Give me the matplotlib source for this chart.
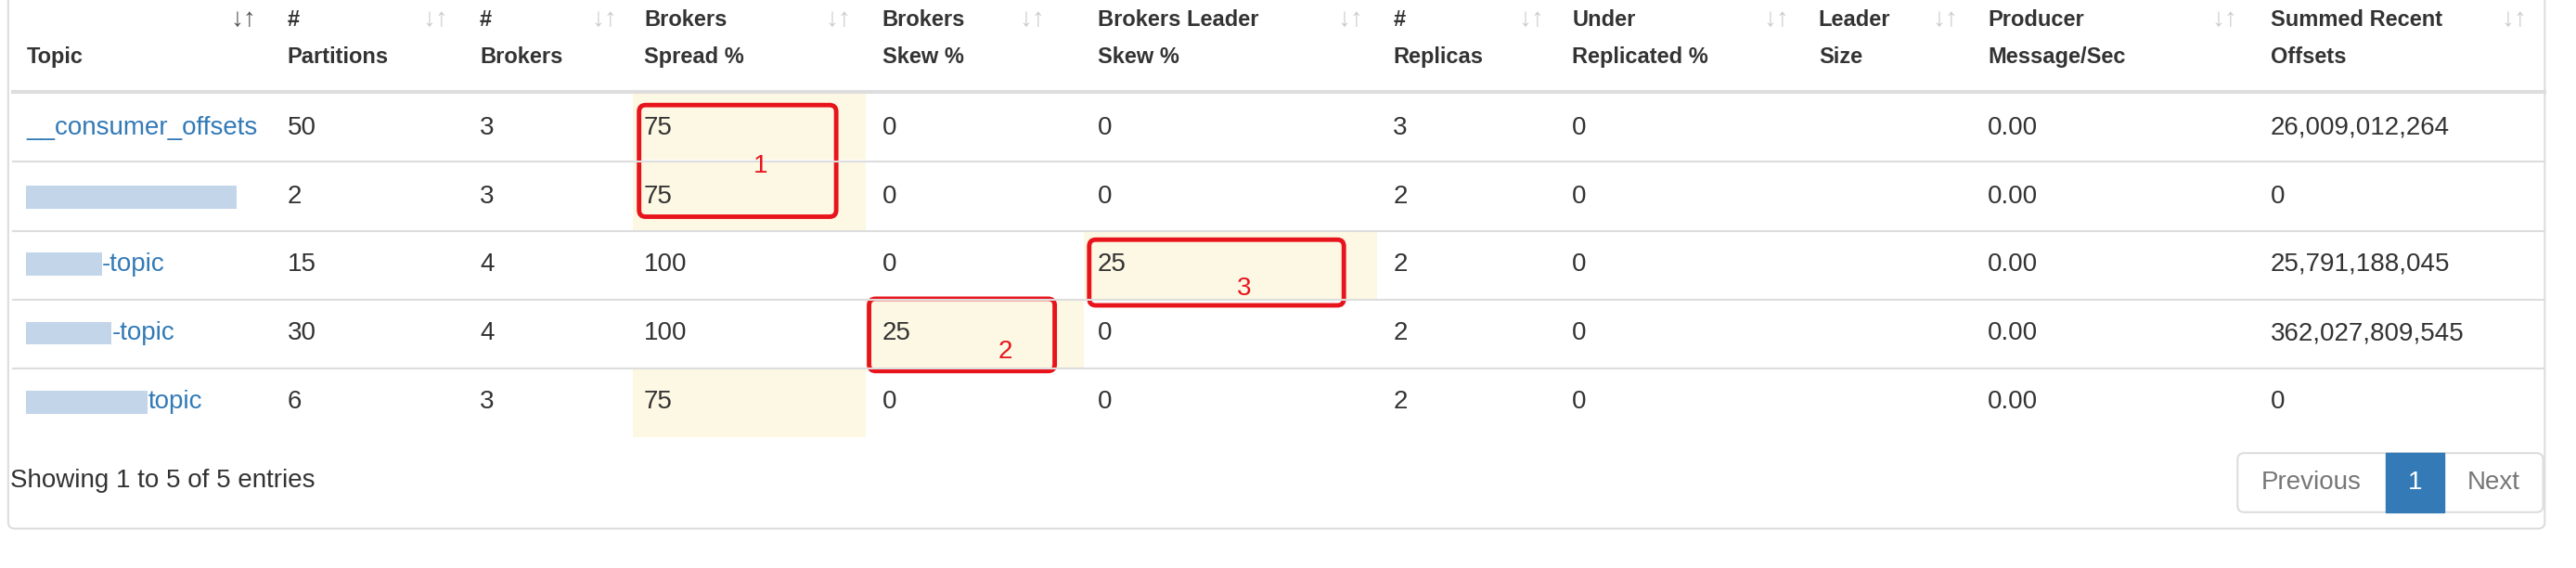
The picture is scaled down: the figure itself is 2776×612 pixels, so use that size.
import matplotlib.pyplot as plt
from matplotlib.patches import Rectangle, FancyBboxPatch

# table content
headers = [("", "Topic"), ("#", "Partitions"), ("#", "Brokers"), ("Brokers", "Spread %"),
           ("Brokers", "Skew %"), ("Brokers Leader", "Skew %"), ("#", "Replicas"),
           ("Under", "Replicated %"), ("Leader", "Size"), ("Producer", "Message/Sec"),
           ("Summed Recent", "Offsets")]
topics = ["__consumer_offsets", "", "-topic", "-topic", "topic"]
blur_widths = [0, 128, 46, 52, 74]
partitions = ["50", "2", "15", "30", "6"]
brokers = ["3", "3", "4", "4", "3"]
spread = ["75", "75", "100", "100", "75"]
skew = ["0", "0", "0", "25", "0"]
leader_skew = ["0", "0", "25", "0", "0"]
replicas = ["3", "2", "2", "2", "2"]
under_rep = ["0", "0", "0", "0", "0"]
leader_size = ["", "", "", "", ""]
producer = ["0.00", "0.00", "0.00", "0.00", "0.00"]
offsets = ["26,009,012,264", "0", "25,791,188,045", "362,027,809,545", "0"]

columns = [partitions, brokers, spread, skew, leader_skew, replicas, under_rep,
           leader_size, producer, offsets]
col_x = [16, 175, 292, 392, 537, 668, 848, 957, 1107, 1210, 1382]
icon_x = [148, 265, 368, 510, 628, 822, 932, 1081, 1184, 1354, 1530]
# highlighted cells (column index, row index)
highlights = [(3, 0), (3, 1), (3, 4), (4, 3), (5, 2)]
col_edges = [8, 168, 285, 385, 527, 660, 838, 947, 1097, 1200, 1372, 1549]

W, H = 1568, 346
fig = plt.figure(figsize=(27.76, 6.12), dpi=100)
ax = fig.add_axes([0, 0, 1, 1])
ax.set_xlim(0, W)
ax.set_ylim(H, 0)
ax.axis("off")
plt.rcParams['font.family'] = ['Liberation Sans', 'DejaVu Sans']
fs = 17
bfs = 20
dark = "#333333"
blue = "#337ab7"

# panel border
ax.add_patch(FancyBboxPatch((5, -10), 1544, 332, boxstyle="round,pad=0,rounding_size=4",
                            fc="white", ec="#dddddd", lw=1.5))

row_y = [78, 120, 161, 203, 245]
row_top = [56, 99, 141, 183, 225]

for c, r in highlights:
    ax.add_patch(Rectangle((col_edges[c], row_top[r]), col_edges[c + 1] - col_edges[c], 41.5,
                           fc="#fcf8e3", ec="none"))

for i, (h1, h2) in enumerate(headers):
    ax.text(col_x[i], 12, h1, fontsize=fs, weight="bold", color=dark, va="center")
    ax.text(col_x[i], 35, h2, fontsize=fs, weight="bold", color=dark, va="center")
    ax.text(icon_x[i], 12, "↓↑", fontsize=bfs, color="#555555" if i == 0 else "#cccccc",
            va="center", ha="center")

ax.plot([8, 1549], [56, 56], color="#dddddd", lw=3)
for y in [98.5, 140.5, 182.5, 224.5]:
    ax.plot([8, 1549], [y, y], color="#dddddd", lw=1.5)

for r, t in enumerate(topics):
    x = 16
    if blur_widths[r]:
        ax.add_patch(Rectangle((x, row_y[r] - 7), blur_widths[r], 14, fc="#a9c4e0", ec="none", alpha=0.7))
        x += blur_widths[r]
    ax.text(x, row_y[r], t, fontsize=bfs, color=blue, va="center")
    for c, vals in enumerate(columns):
        ax.text(col_x[c + 1], row_y[r], vals[r], fontsize=bfs, color=dark, va="center")

# red annotation boxes
boxes = [(389, 64, 120, 68, "1", 463, 101), (529, 182, 113, 44, "2", 612, 214),
         (663, 146, 155, 40, "3", 757, 176)]
for bx, by, bw, bh, lab, lx, ly in boxes:
    ax.add_patch(FancyBboxPatch((bx, by), bw, bh, boxstyle="round,pad=0,rounding_size=4",
                                fc="none", ec="#e8141c", lw=3.5))
    ax.text(lx, ly, lab, fontsize=bfs, color="#e8141c", ha="center", va="center")

ax.text(6, 293, "Showing 1 to 5 of 5 entries", fontsize=bfs, color=dark, va="center")

# pagination
ax.add_patch(FancyBboxPatch((1362, 276), 186, 36, boxstyle="round,pad=0,rounding_size=4",
                            fc="white", ec="#dddddd", lw=1.5))
ax.add_patch(Rectangle((1452, 276), 36, 36, fc=blue, ec=blue))
ax.text(1407, 294, "Previous", fontsize=bfs, color="#777777", ha="center", va="center")
ax.text(1470, 294, "1", fontsize=bfs, color="white", ha="center", va="center")
ax.text(1518, 294, "Next", fontsize=bfs, color="#777777", ha="center", va="center")

fig.savefig("out.png", dpi=100)
